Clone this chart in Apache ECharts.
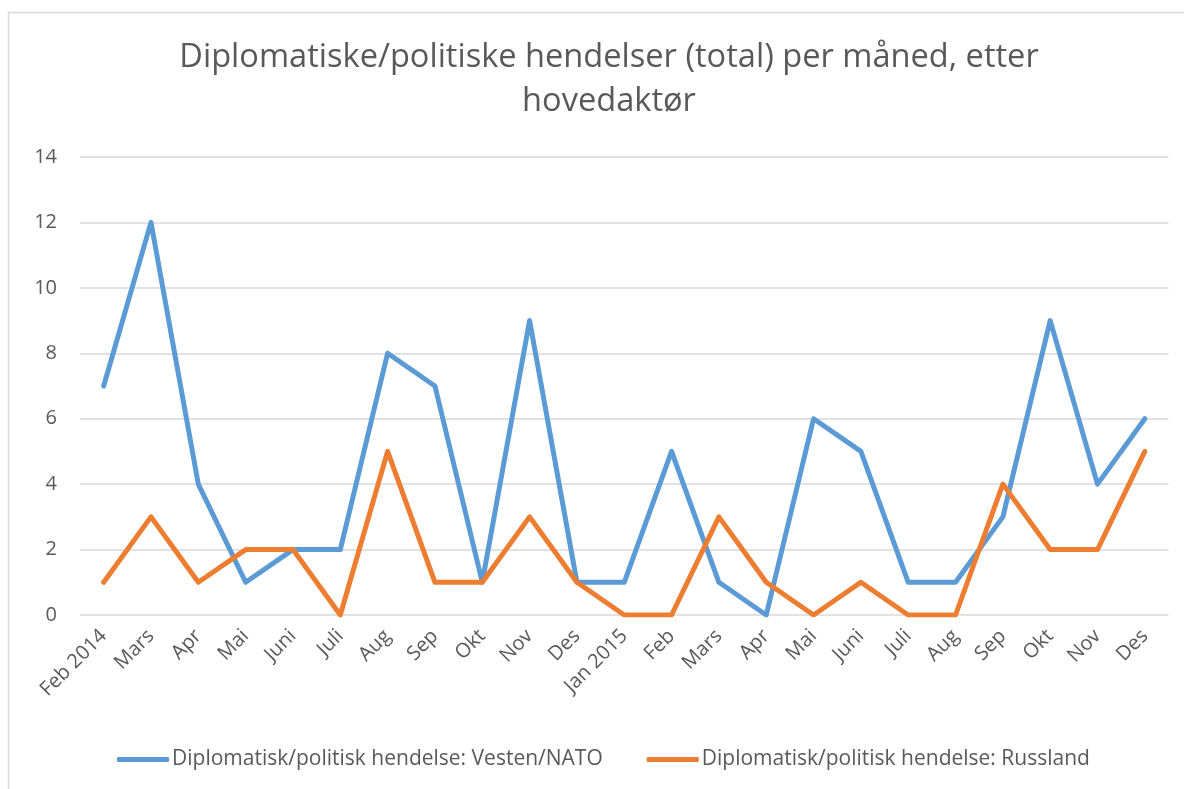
<!DOCTYPE html>
<html>
<head>
<meta charset="utf-8">
<script src="https://cdn.jsdelivr.net/npm/echarts@6/dist/echarts.min.js"></script>
<style>
html,body{margin:0;padding:0;background:#fff;}
#container{width:1184px;height:789px;}
</style>
</head>
<body>
<div id="container"></div>
<script>
var months = ['Feb 2014','Mars','Apr','Mai','Juni','Juli','Aug','Sep','Okt','Nov','Des',
    'Jan 2015','Feb','Mars','Apr','Mai','Juni','Juli','Aug','Sep','Okt','Nov','Des'];
var vestenNato = [7,12,4,1,2,2,8,7,1,9,1,1,5,1,0,6,5,1,1,3,9,4,6];
var russland = [1,3,1,2,2,0,5,1,1,3,1,0,0,3,1,0,1,0,0,4,2,2,5];
var seriesNames = ['Diplomatisk/politisk hendelse: Vesten/NATO','Diplomatisk/politisk hendelse: Russland'];

var fontFam = '"Open Sans", "Noto Sans", sans-serif';
var dom = document.getElementById("container");
var myChart = echarts.init(dom);
var option = {
    backgroundColor: '#fff',
    animation: false,
    title: {
        text: 'Diplomatiske/politiske hendelser (total) per måned, etter\nhovedaktør',
        left: 604,
        textAlign: 'center',
        top: 31,
        textStyle: {
            color: '#595959',
            fontFamily: fontFam,
            fontWeight: 'normal',
            fontSize: 32.6,
            lineHeight: 44
        }
    },
    graphic: [{
        type: 'rect',
        shape: {x: 8.5, y: 12.5, width: 1200, height: 800},
        style: {fill: 'none', stroke: '#d9d9d9', lineWidth: 1.5},
        silent: true
    }],
    legend: {
        bottom: 14,
        left: 112,
        itemWidth: 52,
        itemHeight: 5,
        itemGap: 44,
        icon: 'roundRect',
        textStyle: {color: '#595959', fontFamily: fontFam, fontSize: 21, padding: [0, 0, 0, -2]},
        data: seriesNames
    },
    grid: {left: 80, right: 15.5, top: 157, bottom: 174},
    xAxis: {
        type: 'category',
        data: months,
        boundaryGap: true,
        axisLine: {show: false},
        axisTick: {show: false},
        axisLabel: {
            rotate: 45,
            color: '#595959',
            fontFamily: fontFam,
            fontSize: 20,
            interval: 0,
            margin: 18
        }
    },
    yAxis: {
        type: 'value',
        min: 0,
        max: 14,
        interval: 2,
        axisLine: {show: false},
        axisTick: {show: false},
        axisLabel: {color: '#595959', fontFamily: fontFam, fontSize: 20, margin: 23},
        splitLine: {lineStyle: {color: '#d9d9d9', width: 1.5}}
    },
    series: [{
        name: seriesNames[0],
        type: 'line',
        data: vestenNato,
        symbol: 'none',
        color: '#5B9BD5',
        lineStyle: {width: 5, color: '#5B9BD5', cap: 'round', join: 'round'}
    }, {
        name: seriesNames[1],
        type: 'line',
        data: russland,
        symbol: 'none',
        color: '#ED7D31',
        lineStyle: {width: 5, color: '#ED7D31', cap: 'round', join: 'round'}
    }]
};
myChart.setOption(option, true);
</script>
</body>
</html>
